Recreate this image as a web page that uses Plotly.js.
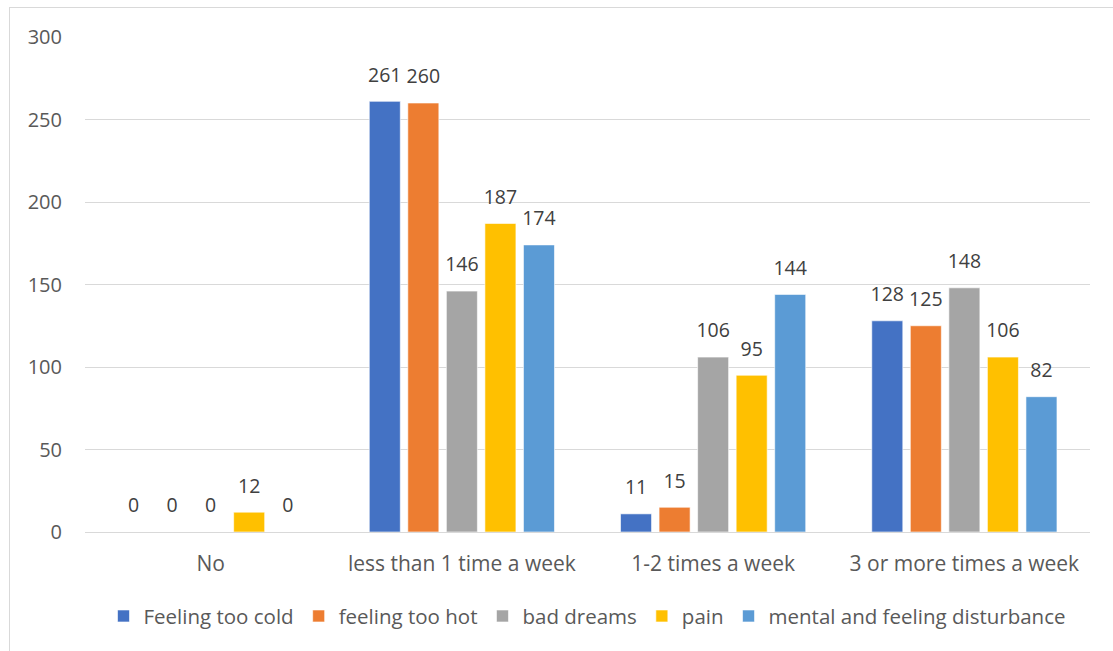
<!DOCTYPE html>
<html><head><meta charset="utf-8">
<script src="https://cdn.plot.ly/plotly-3.0.1.min.js"></script>
<style>
html,body{margin:0;padding:0;background:#fff;}
#frame{position:absolute;left:9px;top:7px;width:1120px;height:660px;border:1px solid #d9d9d9;box-sizing:border-box;}
#chart{position:absolute;left:0;top:0;width:1113px;height:651px;}
</style></head>
<body>
<div id="frame"></div>
<div id="chart"></div>
<script>
const categories = ["No", "less than 1 time a week", "1-2 times a week", "3 or more times a week"];
const seriesNames = ["Feeling too cold", "feeling too hot", "bad dreams", "pain", "mental and feeling disturbance"];
const feelingTooCold = [0, 261, 11, 128];
const feelingTooHot = [0, 260, 15, 125];
const badDreams = [0, 146, 106, 148];
const pain = [12, 187, 95, 106];
const mentalDisturbance = [0, 174, 144, 82];
const yTicks = [0, 50, 100, 150, 200, 250, 300];
const colors = ["#4472c4", "#ed7d31", "#a5a5a5", "#ffc000", "#5b9bd5"];

const allValues = [feelingTooCold, feelingTooHot, badDreams, pain, mentalDisturbance];
const font = "Open Sans, sans-serif";
const bars = allValues.map((vals, i) => ({
  type: "bar",
  name: seriesNames[i],
  x: categories,
  y: vals,
  marker: {color: colors[i], line: {color: "rgba(255,255,255,0.6)", width: 1}},
  offsetgroup: String(i),
  hoverinfo: "x+y+name"
}));
const labels = allValues.map((vals, i) => ({
  type: "scatter",
  mode: "markers+text",
  x: categories,
  y: vals,
  text: vals.map(String),
  textposition: "top center",
  marker: {size: 22, opacity: 0, color: colors[i]},
  offsetgroup: String(i),
  cliponaxis: false,
  showlegend: false,
  hoverinfo: "skip",
  textfont: {family: font, size: 19.5, color: "#404040"}
}));

const layout = {
  width: 1113, height: 651,
  margin: {l: 85, r: 23, t: 37, b: 119},
  paper_bgcolor: "rgba(0,0,0,0)",
  plot_bgcolor: "rgba(0,0,0,0)",
  barmode: "group",
  scattermode: "group",
  bargap: 0.233,
  scattergap: 0.233,
  bargroupgap: 0.195,
  showlegend: true,
  legend: {orientation: "h", x: 0.5, xanchor: "center", y: -0.17, yanchor: "middle",
           font: {family: font, size: 20.5, color: "#595959"}, itemwidth: 30, tracegroupgap: 0},
  xaxis: {type: "category", tickfont: {family: font, size: 21, color: "#595959"},
          showline: false, ticks: "", showgrid: false, ticklabelstandoff: 17},
  yaxis: {range: [0, 300], tickvals: yTicks, ticktext: yTicks.map(String),
          tickfont: {family: font, size: 20, color: "#595959"},
          gridcolor: "#d9d9d9", gridwidth: 1, zeroline: true, zerolinecolor: "#d9d9d9",
          ticks: "", ticklabelstandoff: 22, showline: false}
};
Plotly.newPlot("chart", bars.concat(labels), layout, {displayModeBar: false});
</script>
</body></html>
